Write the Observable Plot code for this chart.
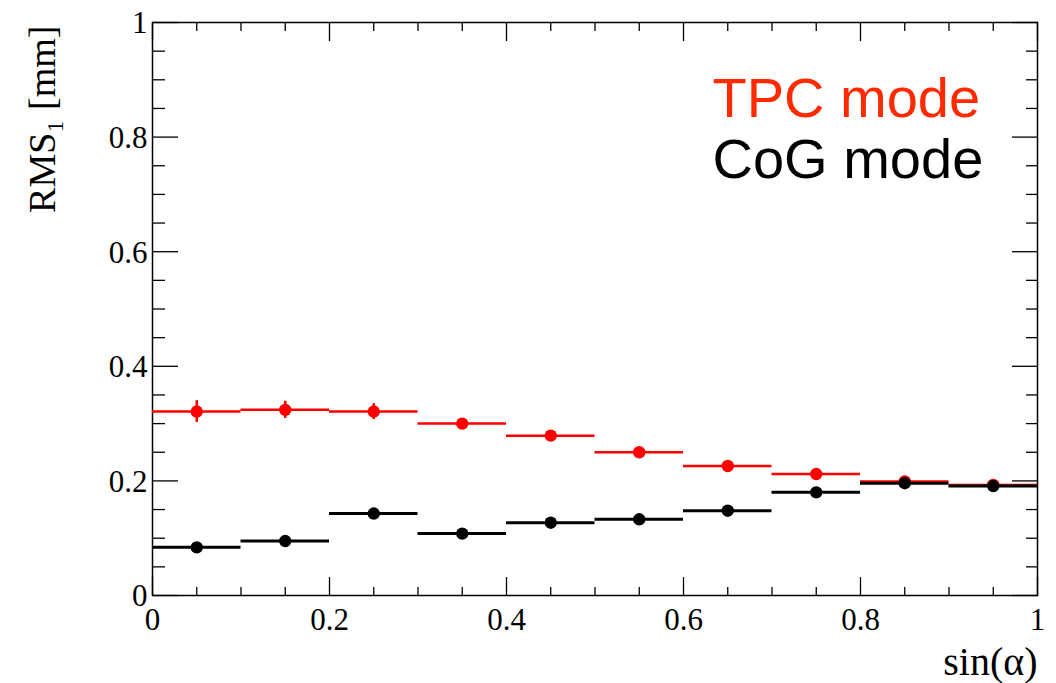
<!DOCTYPE html>
<html><head><meta charset="utf-8">
<script src="https://cdn.jsdelivr.net/npm/d3@7"></script>
<script src="https://cdn.jsdelivr.net/npm/@observablehq/plot@0.6"></script>
<style>body{margin:0;background:#fff}</style>
</head><body><div id="chart"></div>
<script>
const binLow  = [0.0, 0.1, 0.2, 0.3, 0.4, 0.5, 0.6, 0.7, 0.8, 0.9];
const binHigh = [0.1, 0.2, 0.3, 0.4, 0.5, 0.6, 0.7, 0.8, 0.9, 1.0];
const tpcValues = [0.321, 0.324, 0.321, 0.300, 0.279, 0.250, 0.226, 0.212, 0.199, 0.193];
const tpcErrors = [0.019, 0.015, 0.014, 0.005, 0.004, 0.004, 0.003, 0.003, 0.003, 0.003];
const cogValues = [0.084, 0.095, 0.143, 0.108, 0.127, 0.133, 0.148, 0.180, 0.196, 0.191];
const cogErrors = [0.003, 0.003, 0.003, 0.003, 0.003, 0.003, 0.003, 0.003, 0.003, 0.003];
const xMajorTicks = [0, 0.2, 0.4, 0.6, 0.8, 1];
const xMinorTicks = [0.05,0.1,0.15,0.25,0.3,0.35,0.45,0.5,0.55,0.65,0.7,0.75,0.85,0.9,0.95];
const yMajorTicks = [0, 0.2, 0.4, 0.6, 0.8, 1];
const yMinorTicks = [0.05,0.1,0.15,0.25,0.3,0.35,0.45,0.5,0.55,0.65,0.7,0.75,0.85,0.9,0.95];
const xTickLabels = ["0", "0.2", "0.4", "0.6", "0.8", "1"];
const yTickLabels = ["0", "0.2", "0.4", "0.6", "0.8", "1"];
const xLabel = "sin(α)";
const yLabel = "RMS₁ [mm]";
const seriesNames = ["TPC mode", "CoG mode"];

const mk = (vals, errs) => vals.map((v, i) => ({lo: binLow[i], hi: binHigh[i], c: (binLow[i] + binHigh[i]) / 2, v, e: errs[i]}));
const tpc = mk(tpcValues, tpcErrors);
const cog = mk(cogValues, cogErrors);
const serif = "Liberation Serif, Times New Roman, serif";
const sans = "Liberation Sans, Arial, Helvetica, sans-serif";
const blank = () => "";
const xLab = xMajorTicks.map((t, i) => ({t, s: xTickLabels[i]}));
const yLab = yMajorTicks.map((t, i) => ({t, s: yTickLabels[i]}));

const series = (data, color, sw) => [
  Plot.ruleY(data, {y: "v", x1: "lo", x2: "hi", stroke: color, strokeWidth: sw}),
  Plot.ruleX(data, {x: "c", y1: d => d.v - d.e, y2: d => d.v + d.e, stroke: color, strokeWidth: 2.5}),
  Plot.dot(data, {x: "c", y: "v", r: 6.2, fill: color, stroke: "none"})
];

const chart = Plot.plot({
  width: 1056, height: 683,
  marginLeft: 152, marginRight: 19, marginTop: 22, marginBottom: 88,
  style: {fontFamily: serif, color: "black", background: "white"},
  x: {domain: [0, 1], axis: null},
  y: {domain: [0, 1], axis: null},
  marks: [
    Plot.frame({stroke: "black", strokeWidth: 1.5}),
    // tick marks (inward)
    Plot.axisX(xMajorTicks, {anchor: "bottom", tickSize: -18, tickFormat: blank, label: null, strokeWidth: 1.3}),
    Plot.axisX(xMinorTicks, {anchor: "bottom", tickSize: -8, tickFormat: blank, label: null, strokeWidth: 1.3}),
    Plot.axisX(xMajorTicks, {anchor: "top", tickSize: -18, tickFormat: blank, label: null, strokeWidth: 1.3}),
    Plot.axisX(xMinorTicks, {anchor: "top", tickSize: -8, tickFormat: blank, label: null, strokeWidth: 1.3}),
    Plot.axisY(yMajorTicks, {anchor: "left", tickSize: -26, tickFormat: blank, label: null, strokeWidth: 1.3}),
    Plot.axisY(yMinorTicks, {anchor: "left", tickSize: -13, tickFormat: blank, label: null, strokeWidth: 1.3}),
    Plot.axisY(yMajorTicks, {anchor: "right", tickSize: -26, tickFormat: blank, label: null, strokeWidth: 1.3}),
    Plot.axisY(yMinorTicks, {anchor: "right", tickSize: -12, tickFormat: blank, label: null, strokeWidth: 1.3}),
    // tick labels
    Plot.text(xLab, {x: "t", text: "s", frameAnchor: "bottom", lineAnchor: "top", dy: 12, fontSize: 31, fontFamily: serif}),
    Plot.text(yLab, {y: "t", text: "s", frameAnchor: "left", textAnchor: "end", lineAnchor: "middle", dx: -5, dy: 1, fontSize: 31, fontFamily: serif}),
    // data
    ...series(tpc, "#ff0000", 2.5),
    ...series(cog, "#000000", 3),
    // axis titles
    Plot.text([xLabel], {frameAnchor: "bottom-right", textAnchor: "end", lineAnchor: "middle", dy: 67, fontSize: 40, fontFamily: serif}),
    Plot.text([yLabel], {frameAnchor: "top-left", textAnchor: "end", lineAnchor: "middle", rotate: -90, dx: -110, dy: 3, fontSize: 38, fontFamily: serif}),
    // legend
    Plot.text([seriesNames[0]], {frameAnchor: "top-left", textAnchor: "start", lineAnchor: "bottom", dx: 560, dy: 94, fontSize: 56, fontFamily: sans, fill: "#ff2a00"}),
    Plot.text([seriesNames[1]], {frameAnchor: "top-left", textAnchor: "start", lineAnchor: "bottom", dx: 560, dy: 155, fontSize: 56, fontFamily: sans, fill: "#000000"})
  ]
});
document.getElementById("chart").appendChild(chart);
</script>
</body></html>
